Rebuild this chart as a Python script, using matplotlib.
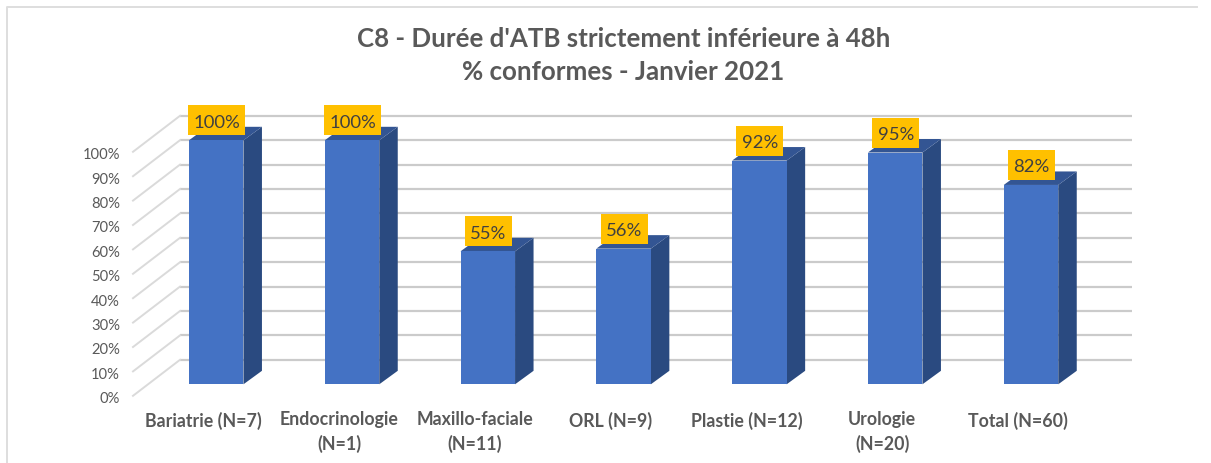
import matplotlib
matplotlib.use("Agg")
import matplotlib.pyplot as plt
from matplotlib.patches import Polygon, Rectangle

categories = ["Bariatrie (N=7)", "Endocrinologie\n(N=1)", "Maxillo-faciale\n(N=11)", "ORL (N=9)",
              "Plastie (N=12)", "Urologie\n(N=20)", "Total (N=60)"]
values = [100, 100, 54.5, 55.6, 91.7, 95, 81.7]
value_labels = ["100%", "100%", "55%", "56%", "92%", "95%", "82%"]
tick_values = list(range(0, 101, 10))
title_lines = "C8 - Durée d'ATB strictement inférieure à 48h\n% conformes - Janvier 2021"

W, H = 1211, 464
plt.rcParams['font.family'] = ['Lato', 'DejaVu Sans']
fig = plt.figure(figsize=(W/100, H/100), dpi=100, facecolor='white')
ax = fig.add_axes([0, 0, 1, 1])
# Axes limits chosen so that the front plane of the 3-D chart lands where it does in the reference.
X0, DX = 216.2, 135.8
Y0, DY = 385.3, 2.44
ax.set_xlim((0 - X0)/DX, (W - X0)/DX)
ax.set_ylim((Y0 - H)/DY, Y0/DY)
ax.axis('off')
px = 1/DX
py = 1/DY

# frame
fig.add_artist(plt.Line2D([7/W, 7/W, 1197/W], [0, 1-7.5/H, 1-7.5/H], color='#DEDEDE', lw=1.4))

# back wall gridlines and side diagonals
wall_dy = 24.5*py
x_left = (180 - X0)*px
x_right = (1132 - X0)*px
x_diag = (133 - X0)*px
diag_drop = 36*py
for t in tick_values:
    y = t + wall_dy
    ax.plot([x_left, x_right], [y, y], color='#CBCBCB', lw=1.6, solid_capstyle='butt', zorder=1)
    ax.plot([x_diag, x_left], [y - diag_drop, y], color='#DADADA', lw=1.4, zorder=1)
    ax.text((120 - X0)*px, y - 38.5*py, f"{t}%", ha='right', va='center', fontsize=10.6,
            color='#595959', zorder=5)

# 3-D bars
bw = 54.5*px
ddx = 18.5*px
ddy = 13.5*py
for i, v in enumerate(values):
    l, r = i - bw/2, i + bw/2
    ax.add_patch(Polygon([(r, 0), (r + ddx, ddy), (r + ddx, v + ddy), (r, v)],
                         fc='#2A4A80', ec='none', zorder=3))
    ax.add_patch(Polygon([(l, v), (l + ddx, v + ddy), (r + ddx, v + ddy), (r, v)],
                         fc='#335593', ec='none', zorder=3))
    ax.bar(i, v, width=bw, color='#4472C4', edgecolor='none', zorder=4)
    box_w = (57 if len(value_labels[i]) == 4 else 47)*px
    box_h = 30*py
    box_b = v + 5*py
    cx = i + 0.5*px
    ax.add_patch(Rectangle((cx - box_w/2, box_b), box_w, box_h, fc='#FFC000', ec='none', zorder=6))
    ax.text(cx, box_b + box_h/2 - 1.5*py, value_labels[i], ha='center', va='center', fontsize=13.3,
            color='#404040', zorder=7)
    ax.text(i - 13*px, (Y0 - 411.5)*py, categories[i], ha='center', va='top',
            fontsize=12.8, fontweight='bold', color='#595959', linespacing=1.45, zorder=5)

ax.text(((358 + 889)/2 - X0)*px, (Y0 - 55.5)*py, title_lines, ha='center', va='center',
        fontsize=18.65, fontweight='bold', color='#595959', linespacing=1.42)

fig.savefig('out.png', dpi=100)
